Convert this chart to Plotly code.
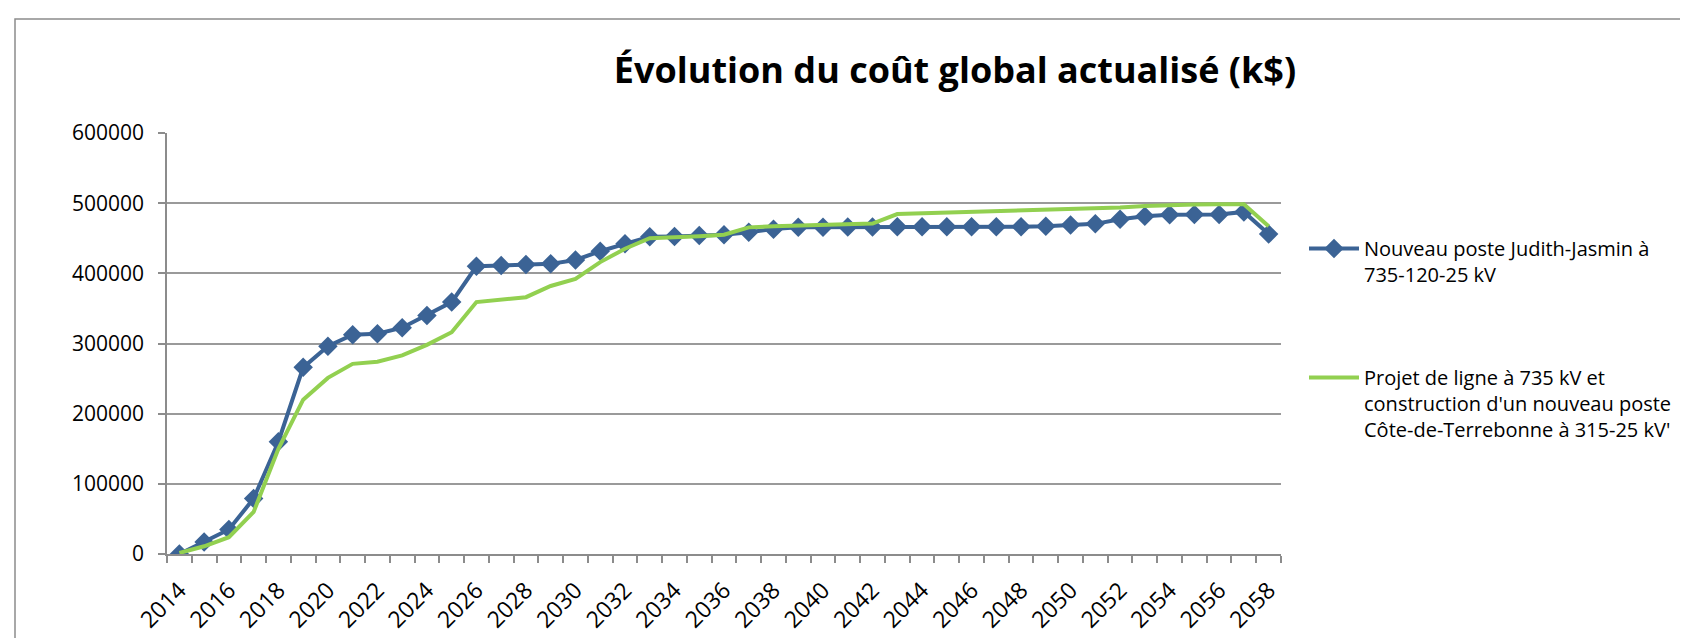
import plotly.graph_objects as go

years = list(range(2014, 2059))

judith_jasmin = [
    0, 17000, 35000, 79000, 160000, 266000, 296000, 312500, 314000, 322500,
    340000, 359000, 410000, 411000, 412500, 413500, 419000, 431500, 442000, 452000,
    452500, 454000, 455000, 458500, 463000, 465500, 465500, 466000, 466000, 466500,
    466500, 466500, 466500, 466500, 466500, 467000, 469000, 470500, 477000, 481500,
    483500, 484000, 484000, 487500, 456000,
]

cote_terrebonne = [
    1500, 11000, 24000, 60000, 150000, 220000, 251000, 271000, 274000, 283000,
    298000, 316000, 359000, 362000, 366000, 382000, 392000, 416000, 435000, 450000,
    451000, 453000, 455000, 465500, 467000, 468000, 469000, 470000, 471000, 484500,
    485500, 486500, 487500, 488500, 489500, 490500, 491500, 492500, 494000, 496000,
    497500, 498000, 498500, 498500, 467000,
]

name_blue = "Nouveau poste Judith-Jasmin à<br>735-120-25 kV"
name_green = "Projet de ligne à 735 kV et<br>construction d'un nouveau poste<br>Côte-de-Terrebonne à 315-25 kV'"
title_text = "Évolution du coût global actualisé (k$)"

y_ticks = [0, 100000, 200000, 300000, 400000, 500000, 600000]
x_label_years = years[::2]
boundaries = [y - 0.5 for y in years] + [years[-1] + 0.5]

BLUE = "#3B6395"
GREEN = "#92D050"
GRID = "#9A9A9A"
AXIS = "#8C8C8C"
FONT = "Open Sans"

fig = go.Figure()
fig.add_trace(go.Scatter(
    x=years, y=judith_jasmin, name=name_blue, mode="lines+markers",
    line=dict(color=BLUE, width=4),
    marker=dict(symbol="diamond", size=15, color=BLUE),
    legendgroup="a",
))
fig.add_trace(go.Scatter(
    x=years, y=cote_terrebonne, name=name_green, mode="lines",
    line=dict(color=GREEN, width=4),
    legendgroup="b",
))

L, R, T, B = 159, 1688 - 1273, 125, 638 - 546
pw, ph = 1688 - L - R, 638 - T - B

fig.update_layout(
    width=1688, height=638,
    margin=dict(l=L, r=R, t=T, b=B, pad=0, autoexpand=False),
    paper_bgcolor="white", plot_bgcolor="white",
    font=dict(family=FONT, size=21, color="black"),
    title=dict(
        text="<b>" + title_text + "</b>",
        font=dict(family=FONT, size=36, color="black"),
        xref="paper", x=(947 - L) / pw, xanchor="center",
        yref="container", y=1 - 62 / 638, yanchor="middle",
    ),
    showlegend=True,
    legend=dict(
        x=(1296 - L) / pw, xanchor="left",
        y=(546 - 221) / ph, yanchor="top",
        font=dict(family=FONT, size=20, color="black"),
        traceorder="grouped", tracegroupgap=74,
        itemwidth=50, valign="top",
        bgcolor="rgba(0,0,0,0)",
    ),
    xaxis=dict(
        range=[years[0] - 0.5, years[-1] + 0.5],
        tickmode="array", tickvals=x_label_years,
        ticktext=[str(v) for v in x_label_years],
        tickangle=-45, ticks="", showgrid=False, zeroline=False,
        showline=True, linecolor=AXIS, linewidth=1.5,
        tickfont=dict(family=FONT, size=23), ticklabelstandoff=12,
        automargin=False,
        minor=dict(tickmode="array", tickvals=boundaries, ticks="outside",
                   ticklen=7, tickwidth=1.5, tickcolor=AXIS, showgrid=False),
    ),
    yaxis=dict(
        range=[0, 600000], tickmode="array", tickvals=y_ticks,
        ticktext=[str(v) for v in y_ticks],
        ticks="outside", ticklen=7, tickwidth=1.5, tickcolor=AXIS,
        showgrid=True, gridcolor=GRID, gridwidth=1.5, zeroline=False,
        showline=True, linecolor=AXIS, linewidth=1.5,
        tickfont=dict(family=FONT, size=21), ticklabelstandoff=10,
        automargin=False,
    ),
    shapes=[dict(
        type="rect", xref="paper", yref="paper",
        x0=(7 - L) / pw, x1=2.0, y0=-2.0, y1=(546 - 11) / ph,
        line=dict(color=AXIS, width=1.5), layer="below",
    )],
)

fig.write_html("out.html")
